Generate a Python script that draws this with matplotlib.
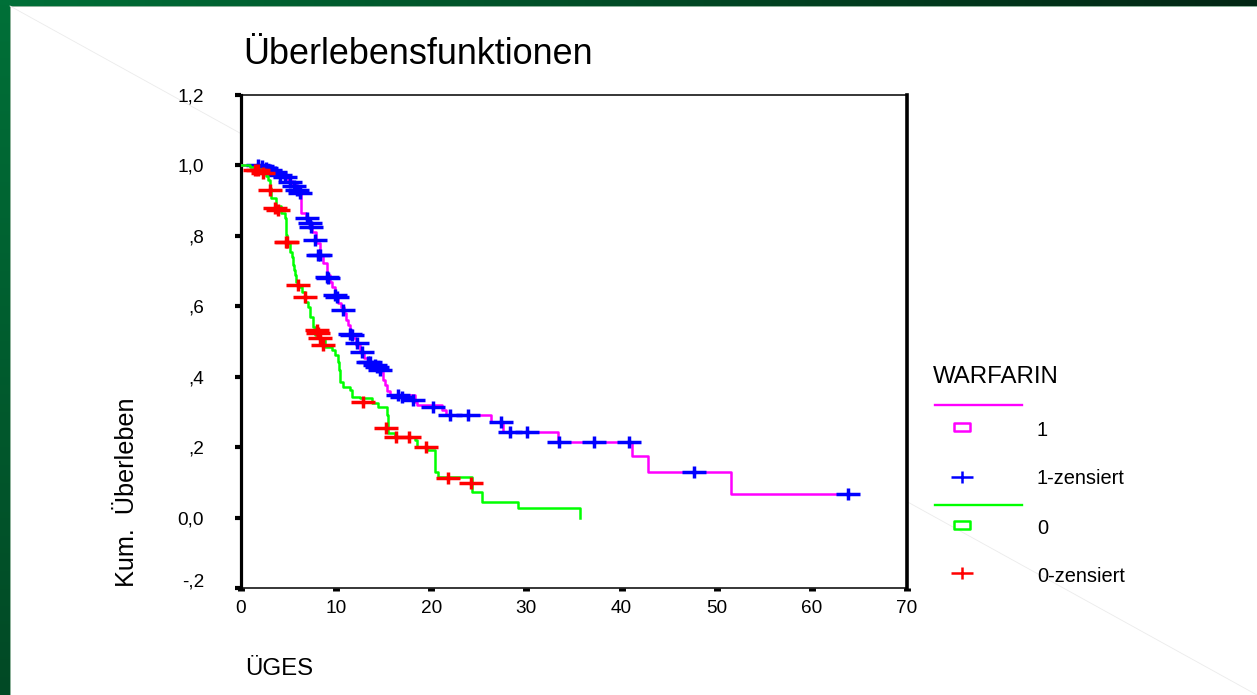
import numpy as np
import matplotlib
matplotlib.use('Agg')
import matplotlib.pyplot as plt
from matplotlib.path import Path
from matplotlib.patches import Rectangle
import matplotlib.transforms as mtransforms

# ---------------- data ----------------
# WARFARIN = 1 : Kaplan-Meier step curve (event times, survival after event)
g1_times = [0.95, 1.58, 2.21, 2.84, 3.37, 3.89, 4.42, 4.95, 5.37, 5.79,
            6.11, 6.32, 6.84, 7.16, 7.47, 7.89, 8.32, 8.63, 9.05, 9.37,
            9.58, 9.89, 10.21, 10.53, 10.84, 11.05, 11.26, 11.47, 11.68, 12.11,
            12.53, 12.95, 13.47, 14.0, 14.63, 14.95, 15.16, 15.37, 15.68, 18.32,
            18.53, 21.16, 21.58, 26.3, 27.5, 33.3, 41.05, 42.8, 51.5]
g1_surv = [0.997, 0.994, 0.991, 0.986, 0.980, 0.974, 0.966, 0.957, 0.946, 0.936,
           0.922, 0.865, 0.851, 0.834, 0.811, 0.780, 0.746, 0.723, 0.689, 0.670,
           0.655, 0.627, 0.610, 0.599, 0.582, 0.562, 0.548, 0.533, 0.511, 0.491,
           0.471, 0.454, 0.437, 0.426, 0.414, 0.391, 0.377, 0.360, 0.349, 0.329,
           0.321, 0.306, 0.292, 0.270, 0.244, 0.216, 0.176, 0.130, 0.068]
g1_end = 63.8
# WARFARIN = 1 censored
c1_times = [1.79, 2.21, 2.63, 3.05, 3.58, 4.11, 4.63, 5.16, 5.58, 5.89, 6.21,
            6.95, 7.26, 7.37, 7.79, 8.11, 8.32, 9.05, 9.16, 9.89, 10.11, 10.74,
            11.47, 11.68, 12.21, 12.74, 13.37, 13.58, 14.11, 14.32, 14.63,
            16.53, 16.95, 18.11, 20.21, 22.0, 23.89, 27.37, 28.32, 30.11,
            33.47, 37.05, 40.74, 47.58, 63.79]
c1_surv = [1.0, 0.997, 0.994, 0.986, 0.980, 0.972, 0.966, 0.953, 0.942, 0.930, 0.922,
           0.851, 0.837, 0.826, 0.789, 0.746, 0.746, 0.684, 0.681, 0.633, 0.627, 0.590,
           0.520, 0.519, 0.496, 0.471, 0.443, 0.443, 0.434, 0.428, 0.420,
           0.349, 0.343, 0.335, 0.315, 0.292, 0.292, 0.270, 0.244, 0.244,
           0.216, 0.216, 0.216, 0.130, 0.068]

# WARFARIN = 0 : Kaplan-Meier step curve
g0_times = [0.95, 1.47, 2.21, 2.63, 2.84, 3.05, 3.16, 3.68, 4.21, 4.63,
            4.74, 4.84, 5.16, 5.37, 5.47, 5.58, 5.68, 5.79, 6.0, 6.42,
            6.74, 7.05, 7.26, 7.58, 7.79, 8.32, 8.84, 9.58, 9.89, 10.21,
            10.32, 10.42, 10.74, 11.47, 11.68, 12.53, 13.79, 14.42, 15.37, 15.47,
            16.21, 18.32, 18.53, 19.58, 20.42, 20.74, 24.32, 25.37, 29.16, 35.58]
g0_surv = [0.996, 0.990, 0.982, 0.970, 0.959, 0.936, 0.908, 0.885, 0.865, 0.851,
           0.803, 0.780, 0.755, 0.740, 0.718, 0.704, 0.689, 0.670, 0.655, 0.641,
           0.613, 0.599, 0.570, 0.542, 0.519, 0.505, 0.485, 0.477, 0.462, 0.443,
           0.420, 0.386, 0.372, 0.363, 0.343, 0.340, 0.326, 0.315, 0.292, 0.241,
           0.230, 0.221, 0.199, 0.193, 0.130, 0.116, 0.074, 0.045, 0.028, 0.0]
# WARFARIN = 0 censored
c0_times = [1.47, 1.79, 2.32, 3.05, 3.58, 3.89, 4.74, 4.84, 6.0, 6.74,
            8.0, 8.11, 8.32, 8.63, 12.84, 15.26, 16.32, 17.68, 19.47, 21.79, 24.21]
c0_surv = [0.987, 0.987, 0.978, 0.930, 0.879, 0.874, 0.783, 0.783, 0.661, 0.627,
           0.533, 0.525, 0.511, 0.491, 0.329, 0.255, 0.230, 0.230, 0.199, 0.113, 0.099]

xticks = [0, 10, 20, 30, 40, 50, 60, 70]
yticks = [-0.2, 0.0, 0.2, 0.4, 0.6, 0.8, 1.0, 1.2]
ytick_labels = ['-,2', '0,0', ',2', ',4', ',6', ',8', '1,0', '1,2']
legend_labels = ['1', '1-zensiert', '0', '0-zensiert']

# ---------------- style ----------------
plt.rcParams['font.family'] = ['Liberation Sans', 'DejaVu Sans']
W, H, DPI = 1257, 695, 100
MAG, BLU, GRN, RED = '#ff00ff', '#0000ff', '#00ff00', '#ff0000'

fig = plt.figure(figsize=(W / DPI, H / DPI), dpi=DPI)
fig.patch.set_facecolor('white')

# background (slide)
bg = fig.add_axes([0, 0, 1, 1], zorder=0)
gx = np.linspace(0, 1, 64)
GX, GY = np.meshgrid(gx, gx)
c_a = np.array([0, 112, 56]) / 255
c_b = np.array([4, 26, 14]) / 255
tt = np.clip(0.85 * GX + 0.45 * GY, 0, 1)[..., None]
bg.imshow(c_a * (1 - tt) + c_b * tt, extent=[0, W, H, 0], aspect='auto',
          interpolation='bilinear')
bg.add_patch(Rectangle((10, 6), W - 10, H - 6, facecolor='white',
                       edgecolor='#8fb39c', lw=0.7))
bg.plot([10, W], [6, H], color='#ebebeb', lw=0.6)
bg.set_xlim(0, W)
bg.set_ylim(H, 0)
bg.axis('off')

# main axes
ax = fig.add_axes([241 / W, 1 - 588 / H, 666 / W, 493 / H], zorder=2)
ax.set_facecolor('white')
ax.step(np.r_[0, g1_times, g1_end], np.r_[1, g1_surv, g1_surv[-1]],
        where='post', color=MAG, lw=1.8, zorder=3)

plus_path = Path([(-1, 0), (1, 0), (0, -0.5), (0, 0.5)],
                 [Path.MOVETO, Path.LINETO, Path.MOVETO, Path.LINETO])
rect_path = Path([(-1, -0.5), (1, -0.5), (1, 0.5), (-1, 0.5), (-1, -0.5)],
                 [Path.MOVETO, Path.LINETO, Path.LINETO, Path.LINETO, Path.CLOSEPOLY])

ax.plot(c1_times, c1_surv, ls='none', marker=plus_path, ms=17, mew=2.5,
        color=BLU, zorder=4)
ax.step(np.r_[0, g0_times], np.r_[1, g0_surv],
        where='post', color=GRN, lw=1.8, zorder=5)
ax.plot(c0_times, c0_surv, ls='none', marker=plus_path, ms=17, mew=2.5,
        color=RED, zorder=6)

ax.set_xlim(0, 70)
ax.set_ylim(-0.2, 1.2)
ax.set_xticks(xticks)
ax.set_xticklabels([str(v) for v in xticks])
ax.set_yticks(yticks)
ax.set_yticklabels(ytick_labels)
ax.tick_params(axis='y', direction='out', length=4, width=3, pad=22.5,
               labelsize=13.7, colors='black')
ax.tick_params(axis='x', direction='out', length=2.5, width=5, pad=6,
               labelsize=13.7, colors='black')
for s, lw in (('left', 2.3), ('right', 2.6), ('top', 1.1), ('bottom', 1.1)):
    ax.spines[s].set_linewidth(lw)
    ax.spines[s].set_color('black')

# lower y label sits a bit higher in the reference
tk = ax.yaxis.get_major_ticks()[0]
tk.label1.set_transform(tk.label1.get_transform() +
                        mtransforms.ScaledTranslation(0, 8 / DPI, fig.dpi_scale_trans))

# texts
fig.text(243 / W, 1 - 64 / H, 'Überlebensfunktionen', fontsize=25.9,
         ha='left', va='baseline')
fig.text(245 / W, 1 - 669 / H, 'ÜGES', fontsize=17.3, ha='left', va='center')
fig.text(127 / W, 1 - 492 / H, 'Kum.  Überleben', fontsize=18.2, rotation=90,
         ha='center', va='center')

# legend
lg = fig.add_axes([0, 0, 1, 1], zorder=3)
lg.patch.set_alpha(0)
lg.set_xlim(0, W)
lg.set_ylim(H, 0)
lg.axis('off')
lg.text(933, 377, 'WARFARIN', fontsize=17.3, ha='left', va='center')
lg.plot([935, 1022], [405, 405], color=MAG, lw=1.7)
lg.plot([962], [427], ls='none', marker=rect_path, ms=11.5, mfc='none',
        mec=MAG, mew=1.8)
lg.plot([962], [477], ls='none', marker=plus_path, ms=16, mew=1.8, color=BLU)
lg.plot([935, 1022], [505, 505], color=GRN, lw=1.7)
lg.plot([962], [525], ls='none', marker=rect_path, ms=11.5, mfc='none',
        mec=GRN, mew=1.8)
lg.plot([962], [573], ls='none', marker=plus_path, ms=16, mew=1.8, color=RED)
for yy, lab in zip([430, 479, 528, 577], legend_labels):
    lg.text(1037, yy, lab, fontsize=14.4, ha='left', va='center')

fig.savefig('out.png', dpi=DPI)
